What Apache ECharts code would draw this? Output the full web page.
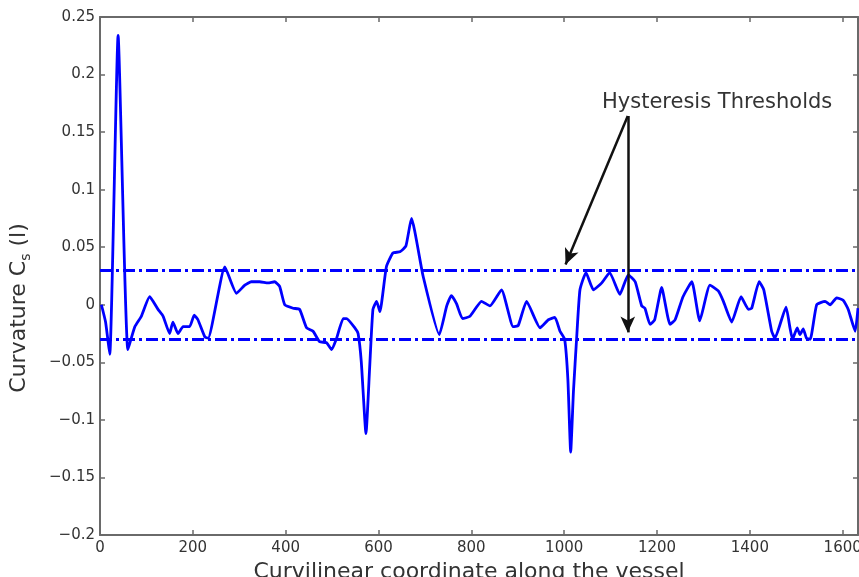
<!DOCTYPE html>
<html>
<head>
<meta charset="utf-8">
<script src="https://cdn.jsdelivr.net/npm/echarts@6/dist/echarts.min.js"></script>
<style>
  html, body { margin: 0; padding: 0; background: #fff; }
  #chart { width: 859px; height: 577px; }
</style>
</head>
<body>
<div id="chart"></div>
<script>
// curvilinear coordinate along the vessel
var coordX = [3, 12, 21, 39, 60, 75, 89, 107, 125, 136, 150, 157, 168, 179, 193, 203, 211, 226, 233,
  269, 294, 312, 326, 344, 362, 376, 387, 398, 416, 430, 445, 459, 473, 488, 499, 509, 524, 531,
  549, 556, 563, 573, 581, 588, 596, 603, 617, 631, 646, 659, 671, 696, 731, 747, 757, 768, 781,
  797, 822, 840, 865, 890, 901, 919, 948, 966, 980, 991, 1001, 1008, 1014, 1020, 1027, 1034, 1047,
  1063, 1081, 1098, 1120, 1138, 1153, 1167, 1174, 1185, 1195, 1210, 1228, 1239, 1256, 1275, 1292,
  1314, 1332, 1343, 1361, 1381, 1397, 1404, 1420, 1430, 1447, 1454, 1478, 1486, 1492, 1502, 1508,
  1515, 1522, 1530, 1544, 1562, 1573, 1587, 1601, 1612, 1627, 1633];
// curvature Cs(l)
var curvature = [0.000, -0.015, -0.043, 0.234, -0.039, -0.019, -0.010, 0.007, -0.004, -0.010, -0.025, -0.015, -0.025, -0.019, -0.019, -0.009, -0.013, -0.028, -0.029,
  0.033, 0.010, 0.017, 0.020, 0.020, 0.019, 0.020, 0.016, 0.000, -0.003, -0.004, -0.020, -0.023, -0.032, -0.033, -0.039, -0.030, -0.012, -0.012,
  -0.020, -0.025, -0.050, -0.112, -0.054, -0.004, 0.003, -0.006, 0.033, 0.045, 0.046, 0.051, 0.075, 0.025, -0.026, -0.001, 0.008, 0.001, -0.012,
  -0.010, 0.003, -0.001, 0.013, -0.019, -0.018, 0.003, -0.020, -0.013, -0.011, -0.023, -0.030, -0.065, -0.128, -0.075, -0.028, 0.013, 0.028,
  0.013, 0.019, 0.028, 0.009, 0.026, 0.020, -0.001, -0.003, -0.017, -0.013, 0.015, -0.017, -0.013, 0.007, 0.020, -0.014,
  0.017, 0.012, 0.003, -0.015, 0.007, -0.004, -0.003, 0.020, 0.013, -0.023, -0.029, -0.002, -0.019, -0.030, -0.020, -0.026,
  -0.021, -0.029, -0.030, 0.000, 0.003, 0.000, 0.006, 0.004, -0.004, -0.023, -0.003];
var thresholds = [0.03, -0.03];
var xTicks = [0, 1633, 200];
var yTicks = [-0.2, 0.25, 0.05];

var chart = echarts.init(document.getElementById('chart'));
var font = 'DejaVu Sans';
var axisGrey = '#6a6a6a';

var fmtY = function (v) {
  return String(+v.toFixed(2)).replace('-', '\u2212');
};
var fmtX = function (v) { return String(v); };

function boxAxis(pos, isX, show) {
  var t = isX ? xTicks : yTicks;
  return {
    type: 'value',
    position: pos,
    min: t[0], max: t[1], interval: t[2],
    axisLine: { show: true, onZero: false, lineStyle: { color: axisGrey, width: 2 } },
    axisTick: { show: true, inside: true, length: 5, lineStyle: { color: axisGrey, width: 1.5 } },
    splitLine: { show: false },
    axisLabel: {
      show: show, margin: isX ? 6 : 5, color: '#333', fontFamily: font, fontSize: 15,
      showMaxLabel: !isX, formatter: isX ? fmtX : fmtY
    }
  };
}

var xMain = boxAxis('bottom', true, true);
xMain.name = 'Curvilinear coordinate along the vessel';
xMain.nameLocation = 'middle';
xMain.nameGap = 23;
xMain.nameTextStyle = { fontFamily: font, fontSize: 22, color: '#333', padding: [0, 20, 0, 0] };

var yMain = boxAxis('left', false, true);
yMain.name = 'Curvature C{sub|s} (l)';
yMain.nameLocation = 'middle';
yMain.nameGap = 67;
yMain.nameTextStyle = {
  fontFamily: font, fontSize: 22, color: '#333', padding: [0, 64, 0, 0],
  rich: { sub: { fontFamily: font, fontSize: 14, color: '#333', padding: [14, 0, 0, 0] } }
};

var points = coordX.map(function (x, i) { return [x, curvature[i]]; });

var thresholdLines = thresholds.map(function (v) {
  return { yAxis: v, lineStyle: { color: '#0000ff', width: 3, type: [12, 4, 3, 4] } };
});
var arrowStyle = { color: '#111', width: 2.5, type: 'solid' };
var arrows = [
  [{ coord: [1137, 0.164] }, { coord: [1003, 0.035] }],
  [{ coord: [1137, 0.164] }, { coord: [1137, -0.024] }]
].map(function (a) { a[0].lineStyle = arrowStyle; return a; });

var option = {
  animation: false,
  grid: { left: 100, right: 1, top: 17, bottom: 42, containLabel: false, outerBoundsMode: 'none' },
  xAxis: [xMain, boxAxis('top', true, false)],
  yAxis: [yMain, boxAxis('right', false, false)],
  series: [{
    type: 'line',
    data: points,
    showSymbol: false,
    smooth: 0.15,
    lineStyle: { color: '#0000ff', width: 2.8 },
    markLine: {
      silent: true,
      symbol: ['none', 'none'],
      label: { show: false },
      data: thresholdLines
    }
  }, {
    type: 'line',
    data: [],
    markLine: {
      silent: true,
      symbol: ['none', 'arrow'],
      symbolSize: [11, 16],
      label: { show: false },
      lineStyle: arrowStyle,
      data: arrows
    }
  }],
  graphic: [{
    type: 'text',
    left: 602,
    top: 92,
    style: { text: 'Hysteresis Thresholds', fontFamily: font, fontSize: 21, fill: '#333' }
  }]
};

chart.setOption(option);
</script>
</body>
</html>
